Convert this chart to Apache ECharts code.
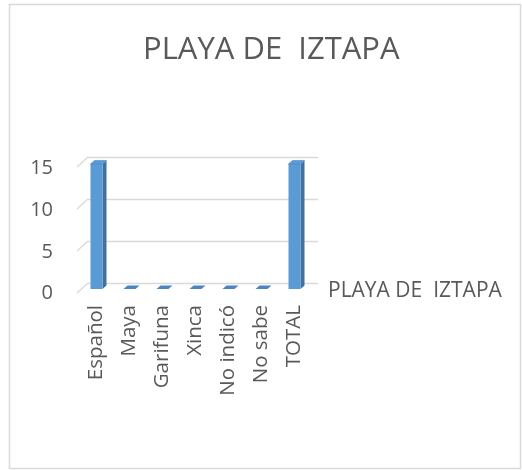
<!DOCTYPE html>
<html>
<head>
<meta charset="utf-8">
<script src="https://cdn.jsdelivr.net/npm/echarts@6/dist/echarts.min.js"></script>
<style>
html,body{margin:0;padding:0;background:#fff;}
#c{width:522px;height:470px;}
</style>
</head>
<body>
<div id="c"></div>
<script>
const titleText = 'PLAYA DE  IZTAPA';
const seriesName = 'PLAYA DE  IZTAPA';
const categories = ['Español', 'Maya', 'Garifuna', 'Xinca', 'No indicó', 'No sabe', 'TOTAL'];
const values = [15, 0, 0, 0, 0, 0, 15];
const yTicks = [0, 5, 10, 15];
const yMin = 0, yMax = 15, yInterval = 5;

const font = 'Open Sans';
const textColor = '#595959';
const gridColor = '#d9d9d9';

const chart = echarts.init(document.getElementById('c'), null, {renderer: 'canvas'});

const option = {
  backgroundColor: '#fff',
  animation: false,
  title: {
    text: titleText,
    left: 138,
    top: 30,
    textStyle: {fontFamily: font, fontSize: 31, fontWeight: 'normal', color: textColor}
  },
  legend: {
    data: [seriesName],
    left: 318,
    top: 276,
    itemWidth: 0,
    itemHeight: 0,
    textStyle: {fontFamily: font, fontSize: 21, color: textColor}
  },
  graphic: [{
    type: 'rect',
    shape: {x: 9.5, y: 4.5, width: 511, height: 464},
    style: {fill: 'none', stroke: gridColor, lineWidth: 1.5},
    silent: true
  }],
  grid: [
    {left: 88, right: 204, top: 157, bottom: 187},
    {left: 80, right: 211, top: 164, bottom: 181}
  ],
  xAxis: [
    {type: 'category', gridIndex: 0, data: categories, show: false},
    {
      type: 'category', gridIndex: 1, data: categories,
      axisLine: {show: false}, axisTick: {show: false},
      axisLabel: {rotate: 90, margin: 16, interval: 0, fontFamily: font, fontSize: 20.5, color: textColor}
    }
  ],
  yAxis: [
    {
      type: 'value', gridIndex: 0, min: yMin, max: yMax, interval: yInterval,
      axisLine: {show: false}, axisTick: {show: false}, axisLabel: {show: false},
      splitLine: {show: true, lineStyle: {color: gridColor, width: 1.3}}
    },
    {
      type: 'value', gridIndex: 1, min: yMin, max: yMax, interval: yInterval,
      axisLine: {show: false}, axisTick: {show: false}, splitLine: {show: false},
      axisLabel: {margin: 27, verticalAlign: 'top', lineHeight: 9, fontFamily: font, fontSize: 20, color: textColor}
    }
  ],
  series: [
    {
      name: 'wall',
      type: 'custom',
      xAxisIndex: 0, yAxisIndex: 0,
      silent: true,
      z: 1,
      data: yTicks.map(v => [0, v]),
      encode: {x: 0, y: 1},
      renderItem: function (params, api) {
        const y = api.coord([0, api.value(1)])[1];
        const x0 = params.coordSys.x;
        return {
          type: 'line',
          shape: {x1: x0 - 11, y1: y + 10, x2: x0, y2: y},
          style: {stroke: gridColor, lineWidth: 1.3}
        };
      }
    },
    {
      name: seriesName,
      type: 'custom',
      xAxisIndex: 1, yAxisIndex: 1,
      z: 5,
      itemStyle: {color: '#5B9BD5'},
      data: values.map((v, i) => [i, v]),
      encode: {x: 0, y: 1},
      renderItem: function (params, api) {
        const i = api.value(0), v = api.value(1);
        const top = api.coord([i, v]);
        const base = api.coord([i, 0]);
        const cx = top[0];
        const hw = 6, dx = 4, dy = 3.5;
        const t = top[1], b = base[1];
        const children = [];
        if (b - t > 0.5) {
          children.push({
            type: 'polygon',
            shape: {points: [[cx + hw, t], [cx + hw + dx, t - dy], [cx + hw + dx, b - dy], [cx + hw, b]]},
            style: {fill: '#41719C'}
          });
          children.push({
            type: 'rect',
            shape: {x: cx - hw, y: t, width: 2 * hw, height: b - t},
            style: {fill: '#5B9BD5'}
          });
        }
        children.push({
          type: 'polygon',
          shape: {points: [[cx - hw, t], [cx + hw, t], [cx + hw + dx, t - dy], [cx - hw + dx, t - dy]]},
          style: {fill: (b - t > 0.5) ? '#5B9BD5' : '#4A86C2', stroke: (b - t > 0.5) ? '#4A86C2' : null, lineWidth: 0.6}
        });
        return {type: 'group', children: children};
      }
    }
  ]
};
chart.setOption(option);
</script>
</body>
</html>
